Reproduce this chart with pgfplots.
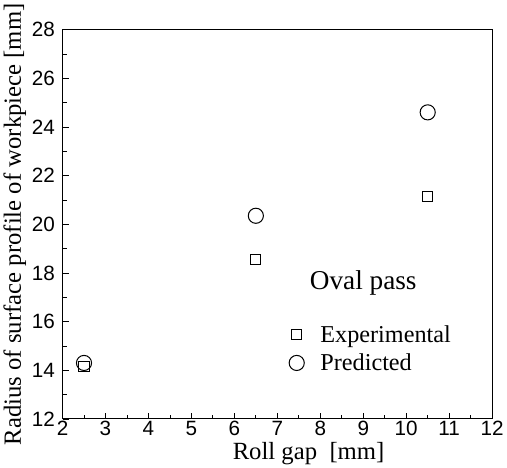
\documentclass[border=0pt]{standalone}
\usepackage{fontspec}
\setmainfont{Liberation Serif}
\newfontfamily\ticksf{Liberation Sans}
\usepackage{pgfplots}
\pgfplotsset{compat=1.18}

\begin{document}
\begin{tikzpicture}
    \begin{axis}[
        scale only axis,
        width  = 426pt,
        height = 386pt,
        xmin=2, xmax=12,
        ymin=12, ymax=28,
        xtick={2,3,...,12},
        ytick={12,14,...,28},
        minor x tick num=1,
        minor y tick num=1,
        tick align=inside,
        xtick pos=left,
        ytick pos=left,
        major tick length=6pt,
        minor tick length=4pt,
        axis line style={line width=1pt},
        tick style={line width=0.8pt, black},
        /pgf/number format/assume math mode=true,
        ticklabel style={font=\ticksf\fontsize{20.5}{22}\selectfont},
        xticklabel style={yshift=1pt},
        yticklabel style={xshift=-4pt},
        xlabel = {Roll gap~~[mm]},
        ylabel = {Radius of surface profile of workpiece [mm]},
        label style={font=\fontsize{24.5}{26}\selectfont},
        xlabel style={xshift=31pt, yshift=1pt},
        ylabel style={yshift=-1pt},
        legend cell align=left,
        legend style={
            draw=none, fill=none,
            at={(axis cs:7.2,13.75)},
            anchor=south west,
            font=\fontsize{24}{26}\selectfont,
            row sep=6pt,
            /tikz/every odd column/.append style={column sep=14pt},
        },
        ]
        \addplot[only marks, mark=square, mark size=5pt, line width=1pt]
            coordinates {(2.5,14.15) (6.5,18.55) (10.5,21.15)};
        \addlegendentry{Experimental}
        \addplot[only marks, mark=o, mark size=7.5pt, line width=1pt]
            coordinates {(2.5,14.3) (6.5,20.35) (10.5,24.6)};
        \addlegendentry{Predicted}
        \node[font=\fontsize{27}{29}\selectfont] at (axis cs:9.0,17.6) {Oval pass};
    \end{axis}
\end{tikzpicture}
\end{document}
